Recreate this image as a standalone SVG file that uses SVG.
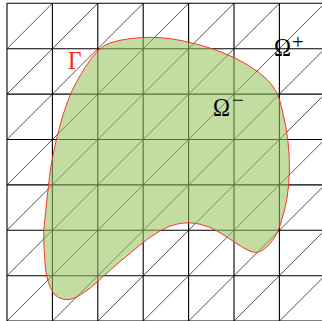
<svg xmlns="http://www.w3.org/2000/svg" width="322" height="321" viewBox="0 0 322 321">
<style>
.grid{fill:none;stroke:#000;stroke-width:1.1}
.diag{fill:none;stroke:#1a1a1a;stroke-width:0.75}
.region{fill:#94c15c;fill-opacity:0.57;stroke:#ff2020;stroke-width:0.9;stroke-opacity:1}
.lbl{font-family:"Liberation Serif","Times New Roman",serif;font-size:26px}
.sup{font-family:"Liberation Serif","Times New Roman",serif;font-size:21px}
</style>
<rect width="322" height="321" fill="#fff"/>
<g id="mesh">
<path class="grid" d="M7,3.3V321.1M52.4,3.3V321.1M97.8,3.3V321.1M143.2,3.3V321.1M188.6,3.3V321.1M234,3.3V321.1M279.4,3.3V321.1M324.8,3.3V321.1M7,3.3H324.8M7,48.7H324.8M7,94.1H324.8M7,139.5H324.8M7,184.9H324.8M7,230.3H324.8M7,275.7H324.8M7,321.1H324.8"/>
<path class="diag" d="M7,48.7L52.4,3.3M7,94.1L97.8,3.3M7,139.5L143.2,3.3M7,184.9L188.6,3.3M7,230.3L234,3.3M7,275.7L279.4,3.3M7,321.1L324.8,3.3M52.4,321.1L324.8,48.7M97.8,321.1L324.8,94.1M143.2,321.1L324.8,139.5M188.6,321.1L324.8,184.9M234,321.1L324.8,230.3M279.4,321.1L324.8,275.7"/>
</g>
<g id="omega-minus-region">
<path class="region" d="M140,37.65 Q150,37 160,37.65 Q170,38.3 180,40.3 Q190,42.3 200,45 Q210,47.7 222,52.35 Q234,57 247,64.5 Q260,72 268.5,81 Q277,90 280.15,101.65 Q283.3,113.3 285.8,126.65 Q288.3,140 289.15,155 Q290,170 288.65,185 Q287.3,200 284.5,210 Q281.7,220 280,225.85 Q278.3,231.7 273.3,239.2 Q268.3,246.7 262.5,250.35 Q256.7,254 250,251.15 Q243.3,248.3 235,242.5 Q226.7,236.7 218.35,231.7 Q210,226.7 200,224.2 Q190,221.7 180,223.35 Q170,225 160,230.85 Q150,236.7 140,245 Q130,253.3 120,261.65 Q110,270 100,279.5 Q90,289 81.650,294.15 Q73.3,299.3 68.3,299.65 Q63.3,300 58.3,297.5 Q53.3,295 50.3,287.5 Q47.3,280 46.15,273.35 Q45,266.7 44.15,250 Q43.3,233.3 44.3,224.15 Q45.3,215 46.8,200.85 Q48.3,186.7 49.5,176.7 Q50.7,166.7 53.35,153.35 Q56,140 59.65,126.65 Q63.3,113.3 67.5,101.65 Q71.7,90 78.35,78.5 Q85,67 91.65,58 Q98.3,49 104.15,45.65 Q110,42.3 120,40.3 Q130,38.3 140,37.65 Z"/>
</g>
<g id="label-gamma">
<text class="lbl" x="68" y="68.5" fill="#ff2020" textLength="13.5" lengthAdjust="spacingAndGlyphs">Γ</text>
</g>
<g id="label-omega-plus">
<text class="lbl" x="274" y="55.5" fill="#000" textLength="17" lengthAdjust="spacingAndGlyphs">Ω</text>
<text class="sup" x="292" y="48.5" fill="#000">+</text>
</g>
<g id="label-omega-minus">
<text class="lbl" x="213" y="115.5" fill="#000" textLength="17" lengthAdjust="spacingAndGlyphs">Ω</text>
<text class="sup" x="232" y="107" fill="#000">−</text>
</g>
</svg>
